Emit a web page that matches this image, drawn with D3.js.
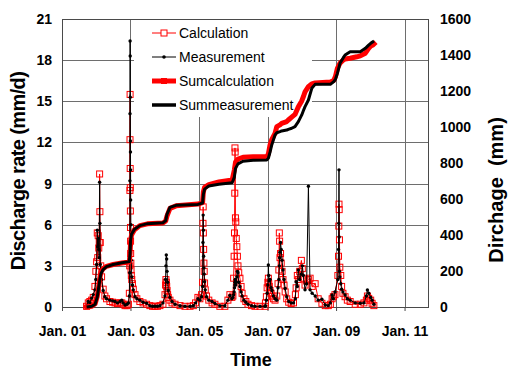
<!DOCTYPE html>
<html><head><meta charset="utf-8">
<script src="https://cdn.jsdelivr.net/npm/d3@7"></script>
<style>
html,body{margin:0;padding:0;background:#fff;}
svg{display:block;font-family:Arial,"Liberation Sans",sans-serif;}
</style></head><body>
<svg id="chart" width="516" height="381"></svg>
<script>
// ---------- data ----------
const xDomain = ["2001-01-01", "2011-09-08"];
const xTicks = ["2001-01-01","2003-01-01","2005-01-01","2007-01-01","2009-01-01","2011-01-01"];
const leftTicks = [0,3,6,9,12,15,18,21];
const rightTicks = [0,200,400,600,800,1000,1200,1400,1600];
const seriesNames = ["Calculation","Measurement","Sumcalculation","Summeasurement"];

// discharge rate, measured (mm/d)
const measured = [
 ["2001-09-20",0.05],["2001-10-08",0.4],["2001-10-25",0.3],["2001-11-13",0.65],["2001-11-30",0.9],
 ["2001-12-18",1.25],["2001-12-28",2.0],["2002-01-05",3.1],["2002-01-12",5.6],["2002-01-17",4.4],
 ["2002-01-22",5.0],["2002-01-28",4.2],["2002-02-02",3.6],["2002-02-06",9.1],["2002-02-09",6.1],
 ["2002-02-13",3.1],["2002-02-18",2.7],["2002-02-27",2.0],["2002-03-16",1.2],["2002-04-03",0.75],
 ["2002-04-21",0.6],["2002-05-27",0.5],["2002-06-25",0.45],["2002-07-20",0.4],["2002-08-15",0.3],
 ["2002-09-12",0.4],["2002-09-30",0.5],["2002-10-15",0.3],["2002-11-04",0.15],["2002-11-25",0.2],
 ["2002-12-10",0.3],["2002-12-20",0.8],
 ["2002-12-24",2.5],["2002-12-26",9.2],["2002-12-27",14.1],["2002-12-28",19.4],["2002-12-29",18.3],
 ["2002-12-30",15.3],["2002-12-31",12.1],["2003-01-01",11.3],["2003-01-02",10.0],["2003-01-03",7.8],
 ["2003-01-05",6.0],["2003-01-07",4.5],["2003-01-10",3.4],["2003-01-15",2.2],["2003-01-22",1.6],
 ["2003-01-31",1.25],["2003-02-18",0.75],["2003-03-10",0.6],["2003-04-11",0.5],["2003-05-15",0.35],
 ["2003-06-22",0.27],["2003-07-27",0.1],["2003-08-25",0.05],["2003-09-19",0.05],["2003-10-15",0.05],
 ["2003-11-11",0.1],["2003-12-13",0.3],
 ["2004-01-04",0.8],["2004-01-10",2.0],["2004-01-14",3.0],["2004-01-18",3.8],["2004-01-22",3.5],
 ["2004-01-26",2.6],["2004-02-01",1.8],["2004-02-08",1.2],["2004-02-26",0.7],["2004-03-19",0.4],
 ["2004-04-20",0.2],["2004-06-12",0.1],["2004-08-04",0.05],["2004-09-27",0.05],["2004-11-01",0.1],
 ["2004-11-25",0.3],["2004-12-20",0.6],
 ["2005-01-10",0.5],["2005-01-28",0.75],["2005-02-08",1.5],["2005-02-12",4.7],["2005-02-14",6.7],
 ["2005-02-16",5.6],["2005-02-19",3.7],["2005-02-22",2.85],["2005-02-25",2.4],["2005-03-01",1.85],
 ["2005-03-08",1.25],["2005-03-22",0.75],["2005-04-15",0.5],["2005-05-20",0.4],["2005-06-19",0.25],
 ["2005-08-11",0.1],["2005-10-03",0.1],["2005-11-05",0.5],["2005-11-26",0.85],["2005-12-17",0.6],
 ["2005-12-28",0.7],["2006-01-05",0.9],["2006-01-10",1.1],["2006-01-14",1.4],["2006-01-17",1.6],
 ["2006-01-19",1.8],["2006-01-21",2.0],["2006-01-24",1.9],["2006-01-28",1.6],["2006-02-02",1.8],
 ["2006-02-08",2.2],["2006-02-14",2.6],["2006-02-20",2.5],["2006-02-28",1.8],["2006-03-13",1.5],
 ["2006-03-25",1.1],["2006-04-05",0.8],["2006-04-25",0.5],["2006-05-15",0.35],["2006-06-07",0.2],
 ["2006-07-15",0.1],["2006-08-20",0.05],["2006-10-13",0.05],["2006-12-06",0.05],
 ["2006-12-10",0.1],["2006-12-20",0.5],["2006-12-28",1.0],["2007-01-05",1.6],["2007-01-10",3.06],
 ["2007-01-14",2.3],["2007-01-20",1.9],["2007-01-28",2.0],["2007-02-08",1.4],["2007-02-18",1.2],
 ["2007-03-05",0.8],["2007-03-22",0.6],["2007-04-10",0.5],["2007-04-23",1.4],["2007-05-02",2.0],
 ["2007-05-07",3.0],["2007-05-10",3.6],["2007-05-14",4.0],["2007-05-20",4.7],["2007-05-27",4.2],
 ["2007-06-05",3.4],["2007-06-15",2.7],["2007-06-26",2.0],["2007-07-08",1.35],["2007-07-25",0.75],
 ["2007-08-15",0.4],["2007-09-10",0.3],["2007-10-05",0.3],["2007-10-25",0.6],["2007-11-02",1.85],
 ["2007-11-15",1.5],["2007-11-25",2.7],["2007-12-10",2.0],["2007-12-28",2.4],["2008-01-07",3.0],
 ["2008-01-18",2.3],["2008-02-05",1.25],["2008-02-22",1.7],["2008-03-12",8.8],["2008-03-30",1.25],
 ["2008-04-21",1.0],["2008-05-23",0.8],["2008-06-24",0.5],["2008-08-03",0.56],["2008-09-08",0.15],
 ["2008-10-10",0.1],["2008-11-01",0.3],["2008-11-20",0.87],["2008-12-03",0.6],["2008-12-20",1.1],
 ["2009-01-20",2.0],["2009-01-27",4.2],["2009-01-30",6.1],["2009-02-01",10.0],["2009-02-03",5.1],
 ["2009-02-06",2.6],["2009-02-10",2.2],["2009-02-20",1.7],["2009-03-01",1.3],["2009-03-15",1.1],
 ["2009-04-07",0.87],["2009-05-01",0.6],["2009-05-31",0.5],["2009-07-24",0.3],["2009-09-16",0.27],
 ["2009-10-25",0.3],["2009-11-20",0.8],["2009-12-01",1.24],["2009-12-15",1.0],["2010-01-05",0.7],
 ["2010-01-20",0.5],["2010-02-08",0.2]
];

// discharge rate, calculated (mm/d)
const calculated = [
 ["2001-09-20",0.05],["2001-10-08",0.3],["2001-10-25",0.4],["2001-11-13",0.5],["2001-11-30",0.7],
 ["2001-12-18",1.5],["2001-12-28",2.6],["2002-01-05",3.3],["2002-01-12",5.4],["2002-01-17",3.6],
 ["2002-01-22",5.2],["2002-01-28",4.3],["2002-02-02",4.7],["2002-02-06",9.7],["2002-02-09",6.95],
 ["2002-02-13",4.7],["2002-02-18",3.0],["2002-02-27",2.2],["2002-03-16",1.3],["2002-04-03",0.8],
 ["2002-04-21",0.6],["2002-05-27",0.4],["2002-06-25",0.35],["2002-07-20",0.3],["2002-08-15",0.25],
 ["2002-09-12",0.3],["2002-09-30",0.3],["2002-10-15",0.2],["2002-11-04",0.1],["2002-11-25",0.1],
 ["2002-12-10",0.2],["2002-12-20",1.0],
 ["2002-12-24",3.0],["2002-12-26",8.5],["2002-12-27",12.2],["2002-12-28",15.5],["2002-12-29",10.1],
 ["2002-12-30",8.7],["2002-12-31",7.0],["2003-01-01",5.8],["2003-01-02",4.8],["2003-01-03",3.9],
 ["2003-01-05",3.2],["2003-01-07",2.7],["2003-01-10",2.3],["2003-01-15",2.0],["2003-01-22",1.7],
 ["2003-01-31",1.3],["2003-02-18",0.9],["2003-03-10",0.6],["2003-04-11",0.4],["2003-05-15",0.3],
 ["2003-06-22",0.2],["2003-07-27",0.1],["2003-08-25",0.05],["2003-09-19",0.05],["2003-10-15",0.05],
 ["2003-11-11",0.1],["2003-12-13",0.2],
 ["2004-01-04",0.9],["2004-01-10",1.6],["2004-01-14",2.0],["2004-01-18",1.8],["2004-01-22",1.5],
 ["2004-01-26",1.2],["2004-02-01",0.9],["2004-02-08",0.7],["2004-02-26",0.5],["2004-03-19",0.3],
 ["2004-04-20",0.2],["2004-06-12",0.1],["2004-08-04",0.05],["2004-09-27",0.05],["2004-11-01",0.1],
 ["2004-11-25",0.3],["2004-12-20",0.7],
 ["2005-01-10",0.6],["2005-01-28",0.9],["2005-02-08",1.8],["2005-02-12",6.1],["2005-02-14",7.3],
 ["2005-02-16",5.4],["2005-02-19",4.2],["2005-02-22",3.2],["2005-02-25",2.6],["2005-03-01",1.75],
 ["2005-03-08",1.25],["2005-03-22",0.8],["2005-04-15",0.5],["2005-05-20",0.3],["2005-06-19",0.2],
 ["2005-08-11",0.05],["2005-10-03",0.05],["2005-11-05",0.5],["2005-11-26",0.9],["2005-12-17",0.7],
 ["2005-12-28",0.8],["2006-01-05",2.1],["2006-01-10",3.7],["2006-01-14",5.4],["2006-01-17",8.3],
 ["2006-01-19",11.6],["2006-01-21",11.3],["2006-01-24",6.5],["2006-01-28",6.2],["2006-02-02",5.0],
 ["2006-02-08",4.4],["2006-02-14",3.7],["2006-02-20",3.0],["2006-02-28",2.5],["2006-03-13",2.1],
 ["2006-03-25",1.5],["2006-04-05",1.0],["2006-04-25",0.6],["2006-05-15",0.4],["2006-06-07",0.2],
 ["2006-07-15",0.1],["2006-08-20",0.05],["2006-10-13",0.05],["2006-12-06",0.05],
 ["2006-12-10",0.3],["2006-12-20",0.75],["2006-12-28",1.4],["2007-01-05",1.8],["2007-01-10",2.1],
 ["2007-01-14",1.7],["2007-01-20",1.5],["2007-01-28",1.2],["2007-02-08",1.0],["2007-02-18",0.8],
 ["2007-03-05",0.6],["2007-03-22",0.5],["2007-04-10",0.8],["2007-04-23",1.7],["2007-05-02",2.7],
 ["2007-05-07",5.4],["2007-05-10",4.8],["2007-05-14",3.6],["2007-05-20",3.9],["2007-05-27",3.2],
 ["2007-06-05",2.6],["2007-06-15",2.0],["2007-06-26",1.6],["2007-07-08",1.1],["2007-07-25",0.6],
 ["2007-08-15",0.35],["2007-09-10",0.25],["2007-10-05",0.3],["2007-10-25",0.9],["2007-11-02",1.4],
 ["2007-11-15",2.3],["2007-11-25",2.0],["2007-12-10",2.6],["2007-12-28",3.4],["2008-01-07",2.8],
 ["2008-01-18",2.1],["2008-02-05",1.6],["2008-02-22",1.9],["2008-03-12",2.0],["2008-03-30",2.1],
 ["2008-04-21",1.5],["2008-05-23",1.7],["2008-06-24",0.6],["2008-08-03",0.27],["2008-09-08",0.1],
 ["2008-10-10",0.1],["2008-11-01",0.2],["2008-11-20",0.6],["2008-12-03",0.75],["2008-12-20",0.9],
 ["2009-01-20",2.3],["2009-01-27",3.7],["2009-01-30",5.9],["2009-02-01",7.5],["2009-02-03",7.1],
 ["2009-02-06",4.9],["2009-02-10",2.9],["2009-02-20",2.3],["2009-03-01",1.5],["2009-03-15",1.0],
 ["2009-04-07",0.75],["2009-05-01",0.5],["2009-05-31",0.4],["2009-07-24",0.2],["2009-09-16",0.2],
 ["2009-10-25",0.3],["2009-11-20",0.5],["2009-12-01",0.8],["2009-12-15",0.63],["2010-01-05",0.5],
 ["2010-01-20",0.27],["2010-02-08",0.1]
];

// cumulative discharge, calculated (mm)
const sumCalculated = [
 ["2001-09-20",0],["2001-11-15",4],["2001-12-20",18],["2002-01-12",60],["2002-01-25",105],
 ["2002-02-08",160],["2002-02-20",195],["2002-03-15",212],["2002-04-20",226],["2002-07-01",236],
 ["2002-10-01",244],["2002-12-20",250],["2002-12-28",300],["2003-01-02",365],["2003-01-12",400],
 ["2003-02-10",428],["2003-04-11",452],["2003-07-01",462],["2003-12-13",467],["2004-01-12",478],
 ["2004-01-25",505],["2004-02-26",548],["2004-05-01",562],["2004-12-20",572],["2005-02-08",580],
 ["2005-02-16",640],["2005-03-01",665],["2005-04-15",680],["2005-08-01",695],["2005-12-20",706],
 ["2006-01-12",760],["2006-01-25",805],["2006-02-20",822],["2006-04-15",832],["2006-08-01",835],
 ["2006-12-24",835],["2007-01-10",850],["2007-01-28",900],["2007-02-15",930],["2007-03-22",965],
 ["2007-04-10",1002],["2007-05-14",1012],["2007-06-01",1020],["2007-07-25",1030],["2007-08-11",1039],
 ["2007-09-16",1055],["2007-10-21",1070],["2007-11-26",1113],["2008-01-01",1145],["2008-01-18",1168],
 ["2008-02-05",1195],["2008-03-12",1224],["2008-04-17",1240],["2008-05-22",1245],["2008-11-01",1250],
 ["2008-12-07",1258],["2008-12-25",1280],["2009-01-15",1326],["2009-02-12",1355],["2009-03-19",1372],
 ["2009-04-07",1378],["2009-05-31",1382],["2009-08-10",1390],["2009-09-16",1395],["2009-11-09",1410],
 ["2009-12-14",1437],["2010-01-05",1450],["2010-01-29",1456],["2010-02-10",1462]
];

// cumulative discharge, measured (mm)
const sumMeasured = [
 ["2001-09-20",0],["2001-11-15",4],["2001-12-20",15],["2002-01-12",55],["2002-01-25",100],
 ["2002-02-08",150],["2002-02-20",185],["2002-03-15",208],["2002-04-20",224],["2002-07-01",236],
 ["2002-10-01",246],["2002-12-20",252],["2002-12-28",300],["2003-01-02",370],["2003-01-12",405],
 ["2003-02-10",430],["2003-04-11",452],["2003-07-01",463],["2003-12-13",468],["2004-01-12",480],
 ["2004-01-25",515],["2004-02-26",553],["2004-05-01",565],["2004-12-20",570],["2005-02-08",578],
 ["2005-02-16",625],["2005-03-01",655],["2005-04-15",672],["2005-08-01",682],["2005-12-20",690],
 ["2006-01-12",720],["2006-01-25",770],["2006-02-20",795],["2006-04-15",810],["2006-08-01",815],
 ["2006-12-24",817],["2007-01-10",826],["2007-01-28",860],["2007-02-15",900],["2007-03-22",956],
 ["2007-04-10",968],["2007-05-14",974],["2007-06-01",978],["2007-07-25",983],["2007-08-11",987],
 ["2007-09-16",993],["2007-10-21",1002],["2007-11-26",1030],["2008-01-01",1067],["2008-01-18",1090],
 ["2008-02-05",1113],["2008-03-12",1150],["2008-04-17",1215],["2008-05-22",1237],["2008-11-01",1237],
 ["2008-12-07",1252],["2008-12-25",1265],["2009-01-15",1298],["2009-02-12",1354],["2009-03-19",1385],
 ["2009-04-07",1400],["2009-05-31",1418],["2009-08-10",1418],["2009-09-16",1418],["2009-11-09",1437],
 ["2009-12-14",1455],["2010-01-05",1465],["2010-01-29",1474],["2010-02-10",1478]
];

// ---------- drawing ----------
const parse = d3.timeParse("%Y-%m-%d");
const toPts = arr => arr.map(d => ({date: parse(d[0]), v: d[1]}));
const P = {left: 62, right: 428, top: 19, bottom: 307};

const svg = d3.select("#chart");
const x = d3.scaleTime().domain(xDomain.map(parse)).range([P.left, P.right]);
const yL = d3.scaleLinear().domain([0, 21]).range([P.bottom, P.top]);
const yR = d3.scaleLinear().domain([0, 1600]).range([P.bottom, P.top]);
const crisp = v => Math.round(v) + 0.5;

// gridlines
const grid = svg.append("g").attr("stroke", "#6e6e6e").attr("stroke-width", 1);
grid.selectAll("line.h").data(leftTicks.filter(t => t > 0 && t < 21)).join("line")
  .attr("x1", P.left).attr("x2", P.right)
  .attr("y1", d => crisp(yL(d))).attr("y2", d => crisp(yL(d)));
grid.selectAll("line.v").data(xTicks.slice(1).map(parse)).join("line")
  .attr("y1", P.top).attr("y2", P.bottom)
  .attr("x1", d => crisp(x(d))).attr("x2", d => crisp(x(d)));

// legend background (covers gridlines)
svg.append("rect").attr("x", 134).attr("y", P.top + 1).attr("width", 178).attr("height", 97)
  .attr("fill", "#fff");

// frame
svg.append("rect").attr("x", crisp(P.left)).attr("y", crisp(P.top))
  .attr("width", Math.round(P.right - P.left)).attr("height", Math.round(P.bottom - P.top))
  .attr("fill", "none").attr("stroke", "#4a4a4a").attr("stroke-width", 1);

// axes
const axL = svg.append("g").attr("transform", `translate(${P.left},0)`)
  .call(d3.axisLeft(yL).tickValues(leftTicks).tickFormat(d3.format("d")).tickSize(0).tickPadding(10));
const axR = svg.append("g").attr("transform", `translate(${P.right},0)`)
  .call(d3.axisRight(yR).tickValues(rightTicks).tickFormat(d3.format("d")).tickSize(0).tickPadding(12));
const axB = svg.append("g").attr("transform", `translate(0,${P.bottom})`)
  .call(d3.axisBottom(x).tickValues(xTicks.map(parse)).tickFormat(d3.timeFormat("%b. %y"))
    .tickSize(4).tickPadding(15));
[axL, axR, axB].forEach(a => {
  a.select(".domain").remove();
  a.selectAll("text").attr("font-family", "Arial, 'Liberation Sans', sans-serif")
    .attr("font-size", 14).attr("font-weight", "bold").attr("fill", "#000");
  a.selectAll(".tick line").attr("stroke", "#4a4a4a");
});

// series
const lineL = d3.line().x(d => x(d.date)).y(d => yL(d.v));
const lineR = d3.line().x(d => x(d.date)).y(d => yR(d.v));
const calcPts = toPts(calculated), measPts = toPts(measured);
const sumCPts = toPts(sumCalculated), sumMPts = toPts(sumMeasured);

svg.append("path").datum(calcPts).attr("d", lineL)
  .attr("fill", "none").attr("stroke", "#ff0000").attr("stroke-width", 1);
svg.append("g").selectAll("rect").data(calcPts).join("rect")
  .attr("x", d => x(d.date) - 3).attr("y", d => yL(d.v) - 3)
  .attr("width", 6).attr("height", 6)
  .attr("fill", "none").attr("stroke", "#ff0000").attr("stroke-width", 1);

svg.append("path").datum(measPts).attr("d", lineL)
  .attr("fill", "none").attr("stroke", "#000").attr("stroke-width", 1);
svg.append("g").selectAll("circle").data(measPts).join("circle")
  .attr("cx", d => x(d.date)).attr("cy", d => yL(d.v)).attr("r", 1.7).attr("fill", "#000");

svg.append("path").datum(sumCPts).attr("d", lineR)
  .attr("fill", "none").attr("stroke", "#ff0000").attr("stroke-width", 5)
  .attr("stroke-linejoin", "round").attr("stroke-linecap", "square");
svg.append("path").datum(sumMPts).attr("d", lineR)
  .attr("fill", "none").attr("stroke", "#000").attr("stroke-width", 3)
  .attr("stroke-linejoin", "round");

// legend
const legY = [33, 57, 81, 105];
const leg = svg.append("g");
seriesNames.forEach((name, i) => {
  const y = legY[i];
  const g = leg.append("g");
  const isSum = i >= 2;
  const col = (i % 2 === 0) ? "#ff0000" : "#000";
  g.append("line").attr("x1", 152).attr("x2", 176).attr("y1", y).attr("y2", y)
    .attr("stroke", col).attr("stroke-width", isSum ? (i === 2 ? 5 : 3.5) : 1);
  if (i === 0) g.append("rect").attr("x", 161).attr("y", y - 3).attr("width", 6).attr("height", 6)
    .attr("fill", "#fff").attr("stroke", col);
  if (i === 1) g.append("circle").attr("cx", 164).attr("cy", y).attr("r", 1.8).attr("fill", col);
  if (i === 2) g.append("rect").attr("x", 161).attr("y", y - 3).attr("width", 6).attr("height", 6)
    .attr("fill", col);
  g.append("text").attr("x", 179).attr("y", y + 5).text(name)
    .attr("font-size", 14).attr("fill", "#000");
});

// axis titles
svg.append("text").attr("transform", "translate(25,171) rotate(-90)")
  .attr("text-anchor", "middle").attr("font-size", 20).attr("font-weight", "bold")
  .attr("letter-spacing", "-0.6px").text("Discharge rate (mm/d)");
svg.append("text").attr("transform", "translate(503,190) rotate(-90)")
  .attr("text-anchor", "middle").attr("font-size", 20).attr("font-weight", "bold")
  .style("white-space", "pre").text("Dirchage  (mm)");
svg.append("text").attr("x", 251).attr("y", 366).attr("text-anchor", "middle")
  .attr("font-size", 18).attr("font-weight", "bold").text("Time");
</script>
</body></html>
